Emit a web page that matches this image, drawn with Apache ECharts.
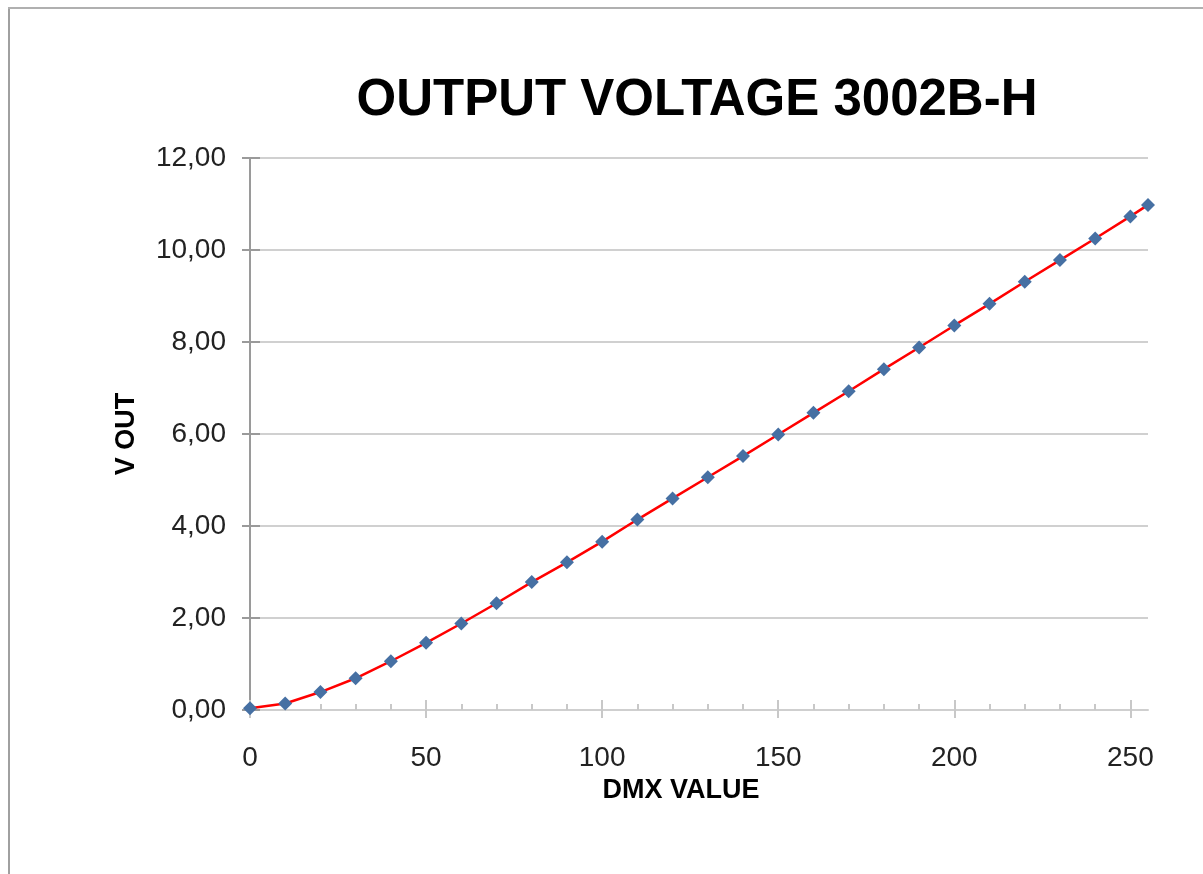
<!DOCTYPE html>
<html>
<head>
<meta charset="utf-8">
<script src="https://cdn.jsdelivr.net/npm/echarts@6/dist/echarts.min.js"></script>
<style>
html,body{margin:0;padding:0;background:#fff;}
#c{width:1203px;height:874px;}
</style>
</head>
<body>
<div id="c"></div>
<script>
const titleText = 'OUTPUT VOLTAGE 3002B-H';
const xName = 'DMX VALUE';
const yName = 'V OUT';
const dmxValues = [0,10,20,30,40,50,60,70,80,90,100,110,120,130,140,150,160,170,180,190,200,210,220,230,240,250,255];
const voltOut = [0.04,0.14,0.39,0.69,1.06,1.46,1.88,2.32,2.78,3.21,3.66,4.14,4.60,5.06,5.52,5.99,6.46,6.93,7.41,7.88,8.36,8.83,9.31,9.78,10.25,10.73,10.98];
const xMajorTicks = [0,50,100,150,200,250];
const xMinorTicks = [10,20,30,40,60,70,80,90,110,120,130,140,160,170,180,190,210,220,230,240];
const yTicks = [0,2,4,6,8,10,12];

const chart = echarts.init(document.getElementById('c'));
const font = '"Liberation Sans", Arial, sans-serif';
const baseX = {
  type: 'value', min: 0, max: 255, position: 'bottom',
  splitLine: {show: false}
};
chart.setOption({
  backgroundColor: '#fff',
  animation: false,
  title: {
    text: titleText, left: 692, top: 70, textAlign: 'center',
    textStyle: {fontFamily: font, fontSize: 51, fontWeight: 'bold', color: '#000'}
  },
  grid: {left: 250, right: 55, top: 158, bottom: 164, containLabel: false},
  xAxis: [
    Object.assign({}, baseX, {
      axisLine: {show: true, lineStyle: {color: '#cfcfcf', width: 2}},
      axisTick: {show: true, inside: false, length: 8, customValues: xMajorTicks, lineStyle: {color: '#c8c8c8', width: 2}},
      axisLabel: {show: true, customValues: xMajorTicks, margin: 34, fontFamily: font, fontSize: 28, color: '#222'},
      name: xName, nameLocation: 'middle', nameGap: 64,
      nameTextStyle: {fontFamily: font, fontSize: 27, fontWeight: 'bold', color: '#000', padding: [0, 36, 0, 0]}
    }),
    Object.assign({}, baseX, {
      axisLine: {show: false},
      axisTick: {show: true, inside: true, length: 10, customValues: xMajorTicks, lineStyle: {color: '#c8c8c8', width: 2}},
      axisLabel: {show: false}
    }),
    Object.assign({}, baseX, {
      axisLine: {show: false},
      axisTick: {show: true, inside: true, length: 6, customValues: xMinorTicks, lineStyle: {color: '#c8c8c8', width: 2}},
      axisLabel: {show: false}
    })
  ],
  yAxis: [
    {
      type: 'value', min: 0, max: 12, interval: 2, position: 'left',
      axisLine: {show: true, lineStyle: {color: '#9a9a9a', width: 2}},
      axisTick: {show: true, inside: false, length: 8, lineStyle: {color: '#9a9a9a', width: 2}},
      axisLabel: {margin: 24, fontFamily: font, fontSize: 28, color: '#222',
        formatter: v => v.toFixed(2).replace('.', ',')},
      splitLine: {show: true, lineStyle: {color: '#d0d0d0', width: 2}},
      name: yName, nameLocation: 'middle', nameGap: 110, nameRotate: 90,
      nameTextStyle: {fontFamily: font, fontSize: 27, fontWeight: 'bold', color: '#000'}
    },
    {
      type: 'value', min: 0, max: 12, interval: 2, position: 'left',
      axisLine: {show: false},
      axisTick: {show: true, inside: true, length: 10, lineStyle: {color: '#9a9a9a', width: 2}},
      axisLabel: {show: false},
      splitLine: {show: false}
    }
  ],
  graphic: [
    {type: 'line', shape: {x1: 9, y1: 8, x2: 9, y2: 874}, style: {stroke: '#a0a0a0', lineWidth: 2}},
    {type: 'line', shape: {x1: 8, y1: 8, x2: 1203, y2: 8}, style: {stroke: '#b0b0b0', lineWidth: 2}}
  ],
  series: [{
    type: 'line',
    xAxisIndex: 0, yAxisIndex: 0,
    data: dmxValues.map((x, i) => [x, voltOut[i]]),
    symbol: 'diamond', symbolSize: 14,
    itemStyle: {color: '#4670a3'},
    lineStyle: {color: '#ff0000', width: 2.5},
    clip: false, z: 3
  }]
});
</script>
</body>
</html>
